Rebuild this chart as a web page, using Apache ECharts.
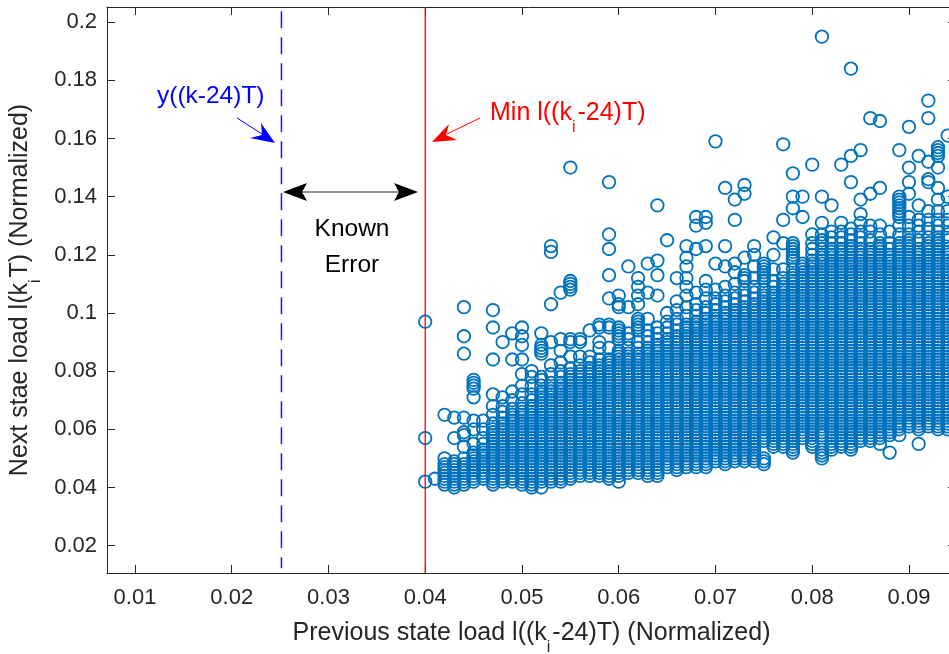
<!DOCTYPE html>
<html><head><meta charset="utf-8">
<style>html,body{margin:0;padding:0;background:#fff;overflow:hidden}#c{width:949px;height:654px}</style>
<script src="https://cdn.jsdelivr.net/npm/echarts@6/dist/echarts.min.js"></script></head>
<body><div id="c"></div>
<script>
const xTicks=[0.01,0.02,0.03,0.04,0.05,0.06,0.07,0.08,0.09];
const yTicks=[0.02,0.04,0.06,0.08,0.1,0.12,0.14,0.16,0.18,0.2];
const knownValue=0.02514, minValue=0.04;
// y values in thousandths, one list per x column (x in thousandths)
const c040=[97,57,42];
const c041=[43];
const c042=[65,50,48,47,46,45,44,43,42,41];
const c043=[64,57,49,48,47,46,45,44,43,42,41,40];
const c044=[102,92,86,64,59,58,54,50,48,47,46,45,44,43,42,41];
const c045=[77,76,75,74,71,63,60,55,52,51,50,49,48,47,46,45,44,43,42];
const c046=[63,60,57,55,53,52,51,50,49,48,47,46,45,44,43];
const c047=[101,95,84,72,68,65,62,60,59,58,57,56,55,54,53,52,51,50,49,48,47,46,45,44,43,42,41];
const c048=[90,71,68,66,64,62,61,60,59,58,57,56,55,54,53,52,51,50,49,48,47,46,45,44,43,42];
const c049=[93,84,73,70,67,65,64,63,62,61,60,59,58,57,56,55,54,53,52,51,50,49,48,47,46,45,44,43,42];
const c050=[95,92,89,84,79,75,72,69,67,66,65,64,63,62,61,60,59,58,57,56,55,54,53,52,51,50,49,48,47,46,45,44,43,42,41];
const c051=[80,78,75,72,70,68,67,66,65,64,63,62,61,60,59,58,57,56,55,54,53,52,51,50,49,48,47,46,45,44,43,42,41,40];
const c052=[93,89,88,87,86,78,77,75,73,72,71,70,69,68,67,66,65,64,63,62,61,60,59,58,57,56,55,54,53,52,51,50,49,48,47,46,45,44,43,42,40];
const c053=[123,121,103,90,82,79,76,74,73,72,71,70,69,68,67,66,65,64,63,62,61,60,59,58,57,56,55,54,53,52,51,50,49,48,47,46,45,44,43,42];
const c054=[107,91,87,83,80,78,76,75,74,73,72,71,70,69,68,67,66,65,64,63,62,61,60,59,58,57,56,55,54,53,52,51,50,49,48,47,46,45,44,43,42];
const c055=[150,111,110,109,108,91,90,85,81,79,78,77,76,75,74,73,72,71,70,69,68,67,66,65,64,63,62,61,60,59,58,57,56,55,54,53,52,51,50,49,48,47,46,45,44,43];
const c056=[91,90,85,82,80,79,78,77,76,75,74,73,72,71,70,69,68,67,66,65,64,63,62,61,60,59,58,57,56,55,54,53,52,51,50,49,48,47,46,45,44];
const c057=[94,85,83,81,80,79,78,77,76,75,74,73,72,71,70,69,68,67,66,65,64,63,62,61,60,59,58,57,56,55,54,53,52,51,50,49,48,47,46,45,44];
const c058=[96,95,90,88,84,82,81,80,79,78,77,76,75,74,73,72,71,70,69,68,67,66,65,64,63,62,61,60,59,58,57,56,55,54,53,52,51,50,49,48,47,46,45,44];
const c059=[145,127,122,113,105,96,95,88,84,83,82,81,80,79,78,77,76,75,74,73,72,71,70,69,68,67,66,65,64,63,62,61,60,59,58,57,56,55,54,53,52,51,50,49,48,47,46,45,44,43];
const c060=[106,103,102,95,94,93,92,91,87,86,85,84,83,82,81,80,79,78,77,76,75,74,73,72,71,70,69,68,67,66,65,64,63,62,61,60,59,58,57,56,55,54,53,52,51,50,49,48,47,46,45,44,42];
const c061=[116,102,93,91,88,86,85,84,83,82,81,80,79,78,77,76,75,74,73,72,71,70,69,68,67,66,65,64,63,62,61,60,59,58,57,56,55,54,53,52,51,50,49,48,47,46,45];
const c062=[112,109,106,103,98,97,96,95,94,90,88,86,85,84,83,82,81,80,79,78,77,76,75,74,73,72,71,70,69,68,67,66,65,64,63,62,61,60,59,58,57,56,55,54,53,52,51,50,49,48,47,46,45];
const c063=[117,107,98,94,92,90,88,87,86,85,84,83,82,81,80,79,78,77,76,75,74,73,72,71,70,69,68,67,66,65,64,63,62,61,60,59,58,57,56,55,54,53,52,51,50,49,48,47,46,45,44];
const c064=[137,118,113,106,95,93,91,89,88,87,86,85,84,83,82,81,80,79,78,77,76,75,74,73,72,71,70,69,68,67,66,65,64,63,62,61,60,59,58,57,56,55,54,53,52,51,50,49,48,47,46,45,44];
const c065=[125,100,97,95,93,91,90,89,88,87,86,85,84,83,82,81,80,79,78,77,76,75,74,73,72,71,70,69,68,67,66,65,64,63,62,61,60,59,58,57,56,55,54,53,52,51,50,49,48,47];
const c066=[112,104,101,98,96,94,92,91,90,89,88,87,86,85,84,83,82,81,80,79,78,77,76,75,74,73,72,71,70,69,68,67,66,65,64,63,62,61,60,59,58,57,56,55,54,53,52,51,50,49,48,47,46];
const c067=[123,119,116,112,109,106,102,99,96,95,94,93,92,91,90,89,88,87,86,85,84,83,82,81,80,79,78,77,76,75,74,73,72,71,70,69,68,67,66,65,64,63,62,61,60,59,58,57,56,55,54,53,52,51,50,49,48,47];
const c068=[133,130,122,107,103,101,99,97,96,95,94,93,92,91,90,89,88,87,86,85,84,83,82,81,80,79,78,77,76,75,74,73,72,71,70,69,68,67,66,65,64,63,62,61,60,59,58,57,56,55,54,53,52,51,50,49,48,47];
const c069=[133,131,123,111,108,105,102,100,98,97,96,95,94,93,92,91,90,89,88,87,86,85,84,83,82,81,80,79,78,77,76,75,74,73,72,71,70,69,68,67,66,65,64,63,62,61,60,59,58,57,56,55,54,53,52,51,50,49,48,47];
const c070=[159,117,108,105,103,101,99,98,97,96,95,94,93,92,91,90,89,88,87,86,85,84,83,82,81,80,79,78,77,76,75,74,73,72,71,70,69,68,67,66,65,64,63,62,61,60,59,58,57,56,55,54,53,52,51,50,49];
const c071=[143,123,116,109,106,104,102,100,99,98,97,96,95,94,93,92,91,90,89,88,87,86,85,84,83,82,81,80,79,78,77,76,75,74,73,72,71,70,69,68,67,66,65,64,63,62,61,60,59,58,57,56,55,54,53,52,51,50,49,48];
const c072=[139,132,117,114,110,107,105,103,101,100,99,98,97,96,95,94,93,92,91,90,89,88,87,86,85,84,83,82,81,80,79,78,77,76,75,74,73,72,71,70,69,68,67,66,65,64,63,62,61,60,59,58,57,56,55,54,53,52,51,50,49];
const c073=[144,141,119,113,112,111,108,106,104,102,101,100,99,98,97,96,95,94,93,92,91,90,89,88,87,86,85,84,83,82,81,80,79,78,77,76,75,74,73,72,71,70,69,68,67,66,65,64,63,62,61,60,59,58,57,56,55,54,53,52,51,50,49];
const c074=[123,120,116,112,109,107,105,103,102,101,100,99,98,97,96,95,94,93,92,91,90,89,88,87,86,85,84,83,82,81,80,79,78,77,76,75,74,73,72,71,70,69,68,67,66,65,64,63,62,61,60,59,58,57,56,55,54,53,52,51,50,49];
const c075=[117,116,115,114,113,112,111,108,106,105,104,103,102,101,100,99,98,97,96,95,94,93,92,91,90,89,88,87,86,85,84,83,82,81,80,79,78,77,76,75,74,73,72,71,70,69,68,67,66,65,64,63,62,61,60,59,58,57,56,50,49,48];
const c076=[126,120,115,111,109,107,106,105,104,103,102,101,100,99,98,97,96,95,94,93,92,91,90,89,88,87,86,85,84,83,82,81,80,79,78,77,76,75,74,73,72,71,70,69,68,67,66,65,64,63,62,61,60,59,58,57,56,55,54];
const c077=[158,132,124,115,112,110,109,108,107,106,105,104,103,102,101,100,99,98,97,96,95,94,93,92,91,90,89,88,87,86,85,84,83,82,81,80,79,78,77,76,75,74,73,72,71,70,69,68,67,66,65,64,63,62,61,60,59,58,57,56,55,54];
const c078=[148,140,136,124,123,122,121,120,119,118,115,113,112,111,110,109,108,107,106,105,104,103,102,101,100,99,98,97,96,95,94,93,92,91,90,89,88,87,86,85,84,83,82,81,80,79,78,77,76,75,74,73,72,71,70,69,68,67,66,65,64,63,62,61,60,59,58,57,56,55,54,53,52];
const c079=[140,133,117,116,115,114,113,112,111,110,109,108,107,106,105,104,103,102,101,100,99,98,97,96,95,94,93,92,91,90,89,88,87,86,85,84,83,82,81,80,79,78,77,76,75,74,73,72,71,70,69,68,67,66,65,64,63,62,61,60,59,58,57];
const c080=[151,127,124,122,120,118,117,116,115,114,113,112,111,110,109,108,107,106,105,104,103,102,101,100,99,98,97,96,95,94,93,92,91,90,89,88,87,86,85,84,83,82,81,80,79,78,77,76,75,74,73,72,71,70,69,68,67,66,65,64,63,62,61,60,59,58,57,56,55,54];
const c081=[195,140,131,127,125,124,122,120,119,118,117,116,115,114,113,112,111,110,109,108,107,106,105,104,103,102,101,100,99,98,97,96,95,94,93,92,91,90,89,88,87,86,85,84,83,82,81,80,79,78,77,76,75,74,73,72,71,70,69,68,67,66,65,64,63,62,61,60,59,58,53,52,51,50];
const c082=[137,128,126,124,122,121,120,119,118,117,116,115,114,113,112,111,110,109,108,107,106,105,104,103,102,101,100,99,98,97,96,95,94,93,92,91,90,89,88,87,86,85,84,83,82,81,80,79,78,77,76,75,74,73,72,71,70,69,68,67,66,65,64,63,62,61,60,59,58,57,56,55,54,53];
const c083=[151,131,128,126,124,122,121,120,119,118,117,116,115,114,113,112,111,110,109,108,107,106,105,104,103,102,101,100,99,98,97,96,95,94,93,92,91,90,89,88,87,86,85,84,83,82,81,80,79,78,77,76,75,74,73,72,71,70,69,68,67,66,65,64,63,62,61,60,59,58,57,56,55,54];
const c084=[184,154,145,129,127,125,123,122,121,120,119,118,117,116,115,114,113,112,111,110,109,108,107,106,105,104,103,102,101,100,99,98,97,96,95,94,93,92,91,90,89,88,87,86,85,84,83,82,81,80,79,78,77,76,75,74,73,72,71,70,69,68,67,66,65,64,63,62,61,60,59,58,57,56,55,54,53];
const c085=[156,139,134,131,128,126,124,122,121,120,119,118,117,116,115,114,113,112,111,110,109,108,107,106,105,104,103,102,101,100,99,98,97,96,95,94,93,92,91,90,89,88,87,86,85,84,83,82,81,80,79,78,77,76,75,74,73,72,71,70,69,68,67,66,65,64,63,62,61,60,59,58,57,56];
const c086=[167,141,130,128,125,122,121,120,119,118,117,116,115,114,113,112,111,110,109,108,107,106,105,104,103,102,101,100,99,98,97,96,95,94,93,92,91,90,89,88,87,86,85,84,83,82,81,80,79,78,77,76,75,74,73,72,71,70,69,68,67,66,65,64,63,62,61,60,59,58,57,56];
const c087=[166,143,130,127,124,123,122,121,120,119,118,117,116,115,114,113,112,111,110,109,108,107,106,105,104,103,102,101,100,99,98,97,96,95,94,93,92,91,90,89,88,87,86,85,84,83,82,81,80,79,78,77,76,75,74,73,72,71,70,69,68,67,66,65,64,63,62,61,60,59,58,57,55];
const c088=[128,124,122,120,119,118,117,116,115,114,113,112,111,110,109,108,107,106,105,104,103,102,101,100,99,98,97,96,95,94,93,92,91,90,89,88,87,86,85,84,83,82,81,80,79,78,77,76,75,74,73,72,71,70,69,68,67,66,65,64,63,62,61,60,59,58,52];
const c089=[156,140,139,138,137,136,135,134,133,130,127,124,123,122,121,120,119,118,117,116,115,114,113,112,111,110,109,108,107,106,105,104,103,102,101,100,99,98,97,96,95,94,93,92,91,90,89,88,87,86,85,84,83,82,81,80,79,78,77,76,75,74,73,72,71,70,69,68,67,66,65,64,63,62,61,60,58];
const c090=[164,150,145,141,133,130,127,125,124,123,122,121,120,119,118,117,116,115,114,113,112,111,110,109,108,107,106,105,104,103,102,101,100,99,98,97,96,95,94,93,92,91,90,89,88,87,86,85,84,83,82,81,80,79,78,77,76,75,74,73,72,71,70,69,68,67,66,65,64,63,62,61];
const c091=[154,137,132,130,128,125,122,121,120,119,118,117,116,115,114,113,112,111,110,109,108,107,106,105,104,103,102,101,100,99,98,97,96,95,94,93,92,91,90,89,88,87,86,85,84,83,82,81,80,79,78,77,76,75,74,73,72,71,70,69,68,67,66,65,64,63,62,61,60,55];
const c092=[173,167,152,146,145,135,132,129,126,124,123,122,121,120,119,118,117,116,115,114,113,112,111,110,109,108,107,106,105,104,103,102,101,100,99,98,97,96,95,94,93,92,91,90,89,88,87,86,85,84,83,82,81,80,79,78,77,76,75,74,73,72,71,70,69,68,67,66,65,64,63,62,61];
const c093=[157,156,155,154,150,143,139,135,132,130,128,126,125,124,123,122,121,120,119,118,117,116,115,114,113,112,111,110,109,108,107,106,105,104,103,102,101,100,99,98,97,96,95,94,93,92,91,90,89,88,87,86,85,84,83,82,81,80,79,78,77,76,75,74,73,72,71,70,69,68,67,66,65,64,63,62,61,60];
const c094=[161,140,135,132,130,127,125,122,121,120,119,118,117,116,115,114,113,112,111,110,109,108,107,106,105,104,103,102,101,100,99,98,97,96,95,94,93,92,91,90,89,88,87,86,85,84,83,82,81,80,79,78,77,76,75,74,73,72,71,70,69,68,67,66,65,64,63,62,61,60];
const columnLists=[c040,c041,c042,c043,c044,c045,c046,c047,c048,c049,c050,c051,c052,c053,c054,c055,c056,c057,c058,c059,c060,c061,c062,c063,c064,c065,c066,c067,c068,c069,c070,c071,c072,c073,c074,c075,c076,c077,c078,c079,c080,c081,c082,c083,c084,c085,c086,c087,c088,c089,c090,c091,c092,c093,c094];
const points=[];
columnLists.forEach((list,i)=>list.forEach(v=>points.push([(40+i)/1000,v/1000])));

const FONT='"Liberation Sans",Arial,sans-serif', INK='#262626';
const chart=echarts.init(document.getElementById('c'),null,{renderer:'canvas'});
const axisBase={axisLine:{onZero:false,lineStyle:{color:INK,width:1}},splitLine:{show:false}};
const titleRich={a:{fontFamily:FONT,fontSize:25,color:INK,lineHeight:46},
  s:{fontFamily:FONT,fontSize:16,color:INK,verticalAlign:'bottom',lineHeight:16,padding:[0,2,0,0]}};
function ticks(vals,len){return {show:true,inside:true,length:len,customValues:vals,lineStyle:{color:INK,width:1}};}
const redRich={a:{fontFamily:FONT,fontSize:25,fill:'#f00',lineHeight:46},s:{fontFamily:FONT,fontSize:16,fill:'#f00',verticalAlign:'bottom',lineHeight:16,padding:[0,2,0,0]}};
function poly(points,fill){return {type:'polygon',silent:true,z:50,shape:{points},style:{fill,stroke:null}};}
function seg(x1,y1,x2,y2,stroke,w){return {type:'line',silent:true,z:50,shape:{x1,y1,x2,y2},style:{stroke,lineWidth:w||1}};}
function txt(x,y,text,fill,align){return {type:'text',silent:true,z:50,x,y,style:{text,fill,font:'24.5px '+FONT,textAlign:align,textVerticalAlign:'middle'}};}
chart.setOption({
  animation:false,backgroundColor:'#fff',
  grid:{left:107,top:7,width:849,height:566,containLabel:false,outerBoundsMode:'none'},
  xAxis:[
    Object.assign({},axisBase,{type:'value',position:'bottom',min:0.00711,max:0.09486,
      name:'{a|Previous state load l((k}{s|i}{a|-24)T) (Normalized)}',nameLocation:'middle',nameGap:37,
      nameTextStyle:{rich:titleRich},
      axisTick:ticks(xTicks,8),
      axisLabel:{customValues:xTicks,margin:14,fontFamily:FONT,fontSize:22,color:INK,formatter:v=>String(v)}}),
    Object.assign({},axisBase,{type:'value',position:'top',min:0.00711,max:0.09486,
      axisTick:ticks(xTicks,8),axisLabel:{show:false}})
  ],
  yAxis:[
    Object.assign({},axisBase,{type:'value',position:'left',min:0.0106,max:0.2052,
      name:'{a|Next stae load l(k}{s|i}{a|T) (Normalized)}',nameLocation:'middle',nameGap:56,nameRotate:90,
      nameTextStyle:{rich:titleRich},
      axisTick:ticks(yTicks,8),
      axisLabel:{customValues:yTicks,margin:10,fontFamily:FONT,fontSize:22,color:INK,formatter:v=>String(v)}}),
    Object.assign({},axisBase,{type:'value',position:'right',min:0.0106,max:0.2052,
      axisTick:ticks(yTicks,8),axisLabel:{show:false}})
  ],
  series:[
    {type:'scatter',name:'Load',data:points,symbol:'circle',symbolSize:12.5,large:false,silent:true,
     itemStyle:{color:'rgba(0,0,0,0)',borderColor:'#0072BD',borderWidth:1.8,opacity:1},z:2},
    {type:'line',name:'y((k-24)T)',data:[[knownValue,0.2037],[knownValue,0.0122]],symbol:'none',silent:true,z:3,
     lineStyle:{color:'#1414ff',width:1.5,type:[17,9]}},
    {type:'line',name:'Min l((ki-24)T)',data:[[minValue,0.2052],[minValue,0.0106]],symbol:'none',silent:true,z:3,
     lineStyle:{color:'#ff0000',width:1.3}}
  ],
  graphic:[
    txt(157,96,'y((k-24)T)','#0000ff','left'),
    {type:'text',silent:true,z:50,x:490,y:90,style:{text:'{a|Min l((k}{s|i}{a|-24)T)}',rich:redRich,textVerticalAlign:'top'}},
    txt(352,229,'Known','#000','center'),
    txt(352,265,'Error','#000','center'),
    seg(237,118,262,134,'#0000ff'),
    poly([[275,143],[261,123],[262,135],[250,138]],'#0000ff'),
    seg(480,118,447,134,'#ff0000'),
    poly([[432,142],[449,124],[446,135],[457,140]],'#ff0000'),
    seg(300,192,401,192,'#222',1.2),
    poly([[283,192],[307,183],[302,192],[307,201]],'#000'),
    poly([[418,192],[394,183],[399,192],[394,201]],'#000')
  ]
});
</script></body></html>
